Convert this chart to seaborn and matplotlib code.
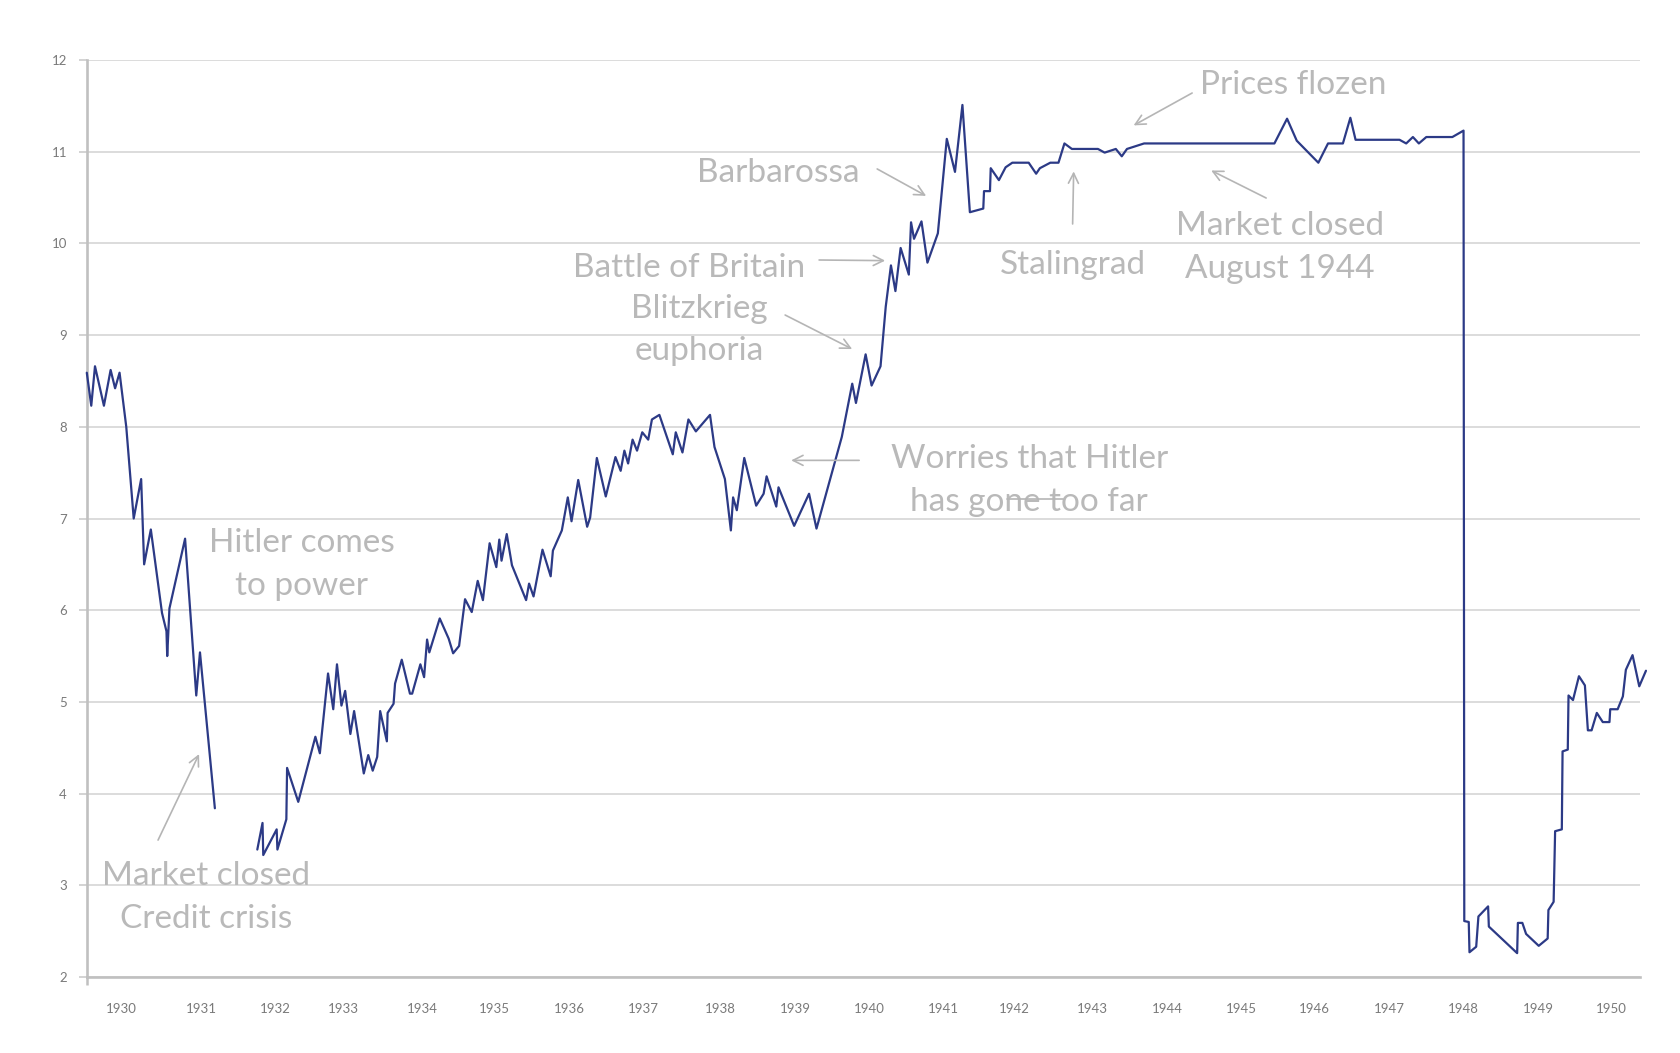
import matplotlib
matplotlib.use("Agg")
import matplotlib.pyplot as plt
import pandas as pd
import seaborn as sns

# ---------------- data ----------------
years_a = [1929.54, 1929.60, 1929.65, 1929.77, 1929.86, 1929.92, 1929.98, 1930.07,
           1930.17, 1930.27, 1930.31, 1930.40, 1930.55, 1930.61, 1930.62, 1930.65,
           1930.86, 1931.01, 1931.06, 1931.26]
vals_a = [8.59, 8.23, 8.66, 8.23, 8.62, 8.42, 8.59, 8.00, 7.00, 7.43, 6.50, 6.88,
          5.97, 5.77, 5.50, 6.02, 6.78, 5.07, 5.54, 3.84]

years_b = [1931.83, 1931.90, 1931.91, 1932.09, 1932.10,
           1932.22, 1932.23, 1932.38, 1932.61, 1932.67,
           1932.78, 1932.85, 1932.90, 1932.96, 1933.01,
           1933.08, 1933.13, 1933.26, 1933.32, 1933.38,
           1933.44, 1933.48, 1933.57, 1933.58, 1933.66,
           1933.68, 1933.77, 1933.88, 1933.91, 1934.02,
           1934.07, 1934.11, 1934.14, 1934.28, 1934.40,
           1934.46, 1934.54, 1934.62, 1934.71, 1934.79,
           1934.86, 1934.95, 1935.04, 1935.08, 1935.11,
           1935.18, 1935.25, 1935.44, 1935.48, 1935.54,
           1935.66, 1935.77, 1935.80, 1935.92, 1936.00,
           1936.05, 1936.14, 1936.26, 1936.30, 1936.39,
           1936.51, 1936.64, 1936.71, 1936.76, 1936.81,
           1936.87, 1936.93, 1937.00, 1937.08, 1937.13,
           1937.23, 1937.41, 1937.45, 1937.54, 1937.62,
           1937.72, 1937.91, 1937.97, 1938.11, 1938.19,
           1938.22, 1938.27, 1938.37, 1938.53, 1938.63,
           1938.67, 1938.80, 1938.83, 1939.04, 1939.24,
           1939.34, 1939.50, 1939.68, 1939.82, 1939.87,
           1940.00, 1940.08, 1940.20, 1940.27, 1940.34,
           1940.40, 1940.47, 1940.58, 1940.61, 1940.65,
           1940.75, 1940.83, 1940.97, 1941.09, 1941.20,
           1941.30, 1941.40, 1941.58, 1941.59, 1941.67,
           1941.68, 1941.79, 1941.88, 1941.97, 1942.19,
           1942.29, 1942.34, 1942.48, 1942.59, 1942.67,
           1942.77, 1943.12, 1943.21, 1943.36, 1943.44,
           1943.51, 1943.74, 1945.49, 1945.66, 1945.79,
           1946.08, 1946.21, 1946.41, 1946.51, 1946.58,
           1947.17, 1947.26, 1947.35, 1947.43, 1947.53,
           1947.88, 1948.03, 1948.04, 1948.10, 1948.11,
           1948.20, 1948.23, 1948.36, 1948.37, 1948.75,
           1948.76, 1948.82, 1948.87, 1949.04, 1949.16,
           1949.17, 1949.24, 1949.26, 1949.35, 1949.36,
           1949.43, 1949.44, 1949.50, 1949.58, 1949.66,
           1949.70, 1949.75, 1949.82, 1949.90, 1949.99,
           1950.00, 1950.10, 1950.17, 1950.21, 1950.30,
           1950.39, 1950.48]
vals_b = [3.39, 3.68, 3.33, 3.61, 3.39,
          3.72, 4.28, 3.91, 4.62, 4.44,
          5.31, 4.92, 5.41, 4.96, 5.12,
          4.65, 4.90, 4.22, 4.42, 4.25,
          4.40, 4.90, 4.57, 4.88, 4.98,
          5.20, 5.46, 5.09, 5.09, 5.41,
          5.27, 5.68, 5.54, 5.91, 5.69,
          5.53, 5.61, 6.12, 5.98, 6.32,
          6.11, 6.73, 6.47, 6.77, 6.54,
          6.83, 6.49, 6.11, 6.29, 6.15,
          6.66, 6.37, 6.65, 6.87, 7.23,
          6.97, 7.42, 6.91, 7.01, 7.66,
          7.24, 7.67, 7.52, 7.74, 7.60,
          7.86, 7.74, 7.94, 7.86, 8.08,
          8.13, 7.70, 7.94, 7.72, 8.08,
          7.95, 8.13, 7.78, 7.43, 6.87,
          7.23, 7.09, 7.66, 7.14, 7.27,
          7.46, 7.13, 7.34, 6.92, 7.27,
          6.89, 7.36, 7.89, 8.47, 8.26,
          8.79, 8.45, 8.66, 9.31, 9.76,
          9.48, 9.95, 9.66, 10.23, 10.05,
          10.24, 9.79, 10.11, 11.14, 10.78,
          11.51, 10.34, 10.38, 10.57, 10.57,
          10.82, 10.69, 10.83, 10.88, 10.88,
          10.76, 10.82, 10.88, 10.88, 11.09,
          11.03, 11.03, 10.99, 11.03, 10.95,
          11.03, 11.09, 11.09, 11.36, 11.12,
          10.88, 11.09, 11.09, 11.37, 11.13,
          11.13, 11.09, 11.16, 11.09, 11.16,
          11.16, 11.23, 2.61, 2.60, 2.27,
          2.33, 2.66, 2.77, 2.55, 2.26,
          2.59, 2.59, 2.47, 2.34, 2.42,
          2.73, 2.82, 3.59, 3.61, 4.46,
          4.48, 5.07, 5.02, 5.28, 5.18,
          4.69, 4.69, 4.88, 4.78, 4.78,
          4.92, 4.92, 5.06, 5.35, 5.51,
          5.17, 5.34]

year_labels = [str(y) for y in range(1930, 1951)]
# where each year label sits along the time axis (as in the reference)
year_label_pos = [1930.00, 1931.08, 1932.07, 1932.98, 1934.04, 1935.02, 1936.02,
                  1937.02, 1938.05, 1939.05, 1940.05, 1941.05, 1941.99, 1943.04,
                  1944.05, 1945.04, 1946.03, 1947.03, 1948.03, 1949.03, 1950.01]
y_ticks = list(range(2, 13))

# annotation lines: (text, x, baseline y)
note_lines = [
    ("Hitler comes", 1932.43, 6.635),
    ("to power", 1932.43, 6.166),
    ("Market closed", 1931.14, 3.00),
    ("Credit crisis", 1931.14, 2.535),
    ("Worries that Hitler", 1942.196, 7.551),
    ("has gone too far", 1942.196, 7.082),
    ("Blitzkrieg", 1937.764, 9.186),
    ("euphoria", 1937.764, 8.728),
    ("Battle of Britain", 1937.63, 9.634),
    ("Barbarossa", 1938.825, 10.670),
    ("Stalingrad", 1942.787, 9.665),
    ("Market closed", 1945.567, 10.095),
    ("August 1944", 1945.567, 9.625),
    ("Prices flozen", 1945.742, 11.63),
]
# arrows: (tail x, tail y, tip x, tip y)
note_arrows = [
    (1930.497, 3.493, 1931.048, 4.431),
    (1939.913, 7.634, 1939.000, 7.634),
    (1938.919, 9.219, 1939.819, 8.848),
    (1939.375, 9.819, 1940.262, 9.812),
    (1940.155, 10.812, 1940.813, 10.518),
    (1942.780, 10.212, 1942.794, 10.785),
    (1945.379, 10.495, 1944.641, 10.795),
    (1944.385, 11.640, 1943.599, 11.287),
]

# ---------------- figure ----------------
sns.set_theme(style="white")
plt.rcParams["font.family"] = ["Lato", "DejaVu Sans"]

df = pd.DataFrame({
    "year": years_a + years_b,
    "value": vals_a + vals_b,
    "segment": [0] * len(years_a) + [1] * len(years_b),
})

W, H = 1680, 1053
fig = plt.figure(figsize=(W / 100, H / 100), dpi=100)
left_px, right_px, top_px, bot_px = 86.5, 1640, 60, 977
ax = fig.add_axes([left_px / W, 1 - bot_px / H, (right_px - left_px) / W, (bot_px - top_px) / H])

sns.lineplot(data=df, x="year", y="value", units="segment", estimator=None,
             sort=False, color="#2c3a86", linewidth=1.6, ax=ax)
for ln in ax.lines:
    ln.set_clip_on(False)
    ln.set_zorder(3)

ax.set_xlim(1929.536, 1950.40)
ax.set_ylim(2, 12)
ax.set_xlabel("")
ax.set_ylabel("")

ax.set_yticks(y_ticks)
ax.set_yticklabels([str(v) for v in y_ticks])
ax.set_xticks(year_label_pos)
ax.set_xticklabels(year_labels)
ax.set_xticks([1929.536], minor=True)

ax.grid(axis="y", color="#d2d2d2", linewidth=1.1)
ax.grid(axis="x", visible=False)
ax.set_axisbelow(True)

ax.tick_params(axis="x", which="major", length=0, pad=19, labelsize=9.5, labelcolor="#7a7a7a")
ax.tick_params(axis="x", which="minor", bottom=True, length=6, width=1.8, color="#c0c0c0")
ax.tick_params(axis="y", left=True, length=6, width=1.1, color="#c8c8c8", pad=8,
               labelsize=9.5, labelcolor="#7a7a7a")

for s in ("top", "right"):
    ax.spines[s].set_visible(False)
for s in ("left", "bottom"):
    ax.spines[s].set_color("#c0c0c0")
    ax.spines[s].set_linewidth(1.9)

text_color = "#b9b9b9"
for txt, x, y in note_lines:
    ax.text(x, y, txt, ha="center", va="baseline", fontsize=24, color=text_color, zorder=4)

for tx, ty, hx, hy in note_arrows:
    ax.annotate("", xy=(hx, hy), xytext=(tx, ty),
                arrowprops=dict(arrowstyle="->,head_length=0.6,head_width=0.3",
                                color="#b5b5b5", lw=1.2, shrinkA=0, shrinkB=0))

# small stray stroke through "gone too"
ax.plot([1941.90, 1942.65], [7.213, 7.213], color="#b5b5b5", lw=1.2, zorder=4)

fig.savefig("out.png", dpi=100, facecolor="white")
